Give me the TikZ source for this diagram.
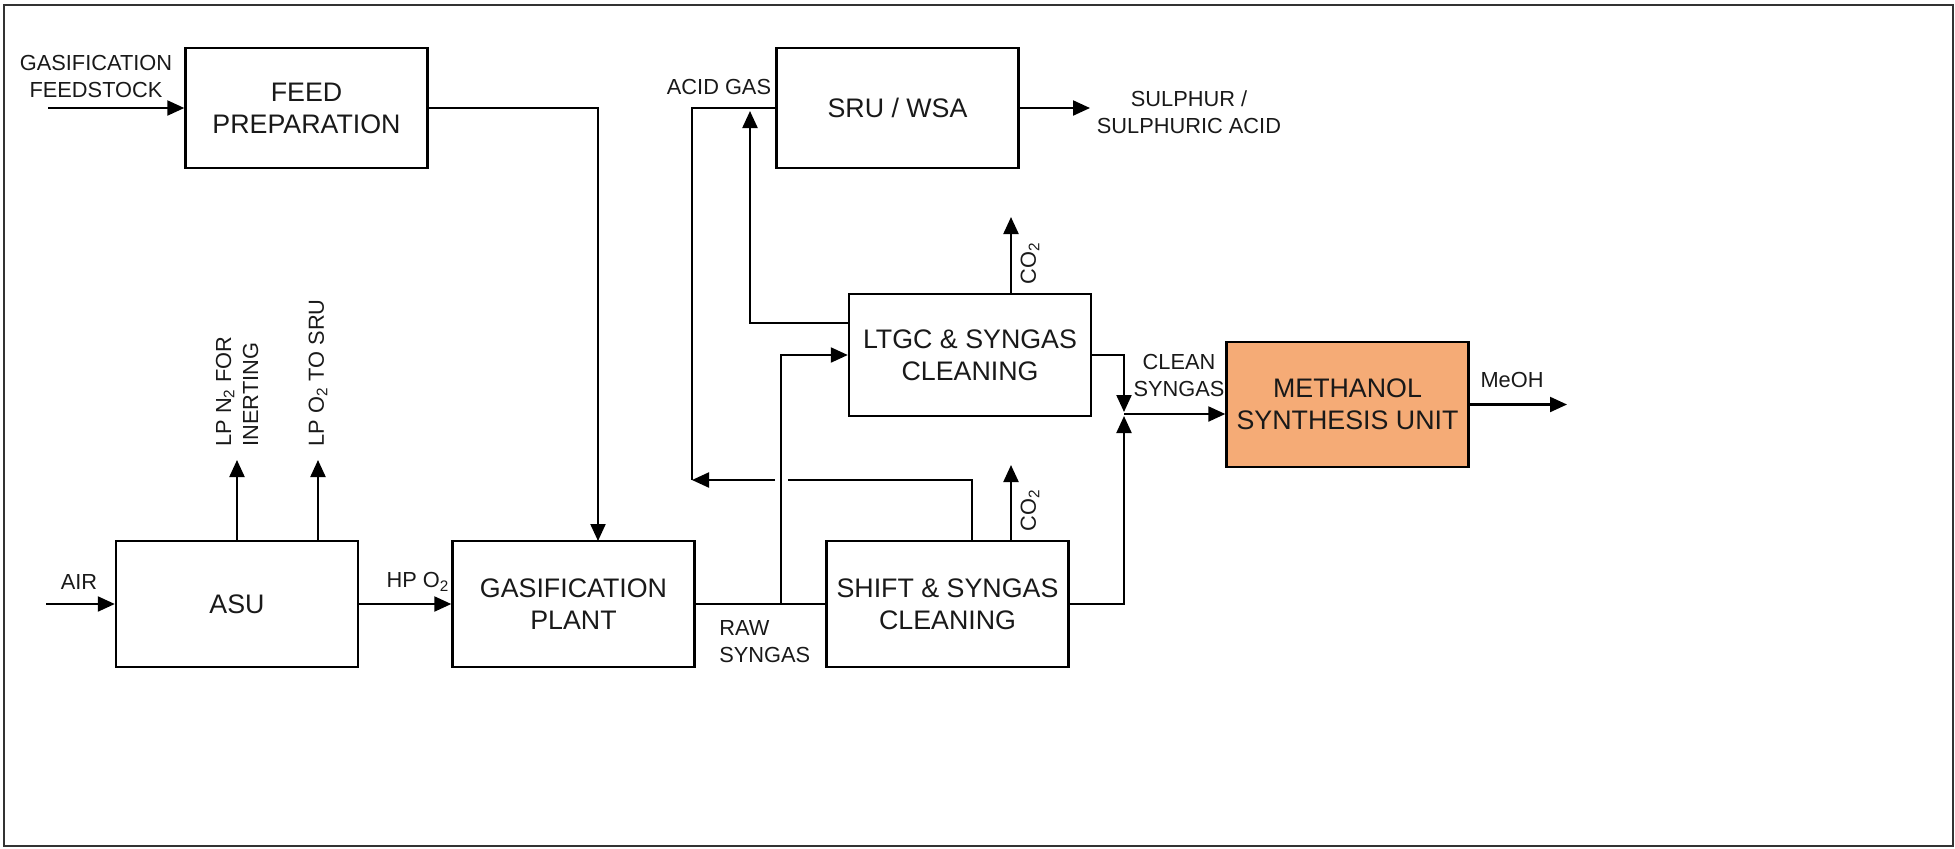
\documentclass[tikz,border=0pt]{standalone}
\usepackage{fontspec}
\setmainfont{Liberation Sans}
\usetikzlibrary{arrows.meta}
\definecolor{msufill}{RGB}{245,171,118}
\definecolor{txt}{RGB}{25,25,25}
\tikzset{
  pbox/.style={draw=black, line width=1.2pt, minimum width=121pt, inner sep=0pt, align=center,
    font=\fontsize{13.4}{16}\selectfont, text=txt},
  lbl/.style={inner sep=0pt, align=center, font=\fontsize{10.9}{13.5}\selectfont, text=txt},
  arr/.style={line width=1.1pt, -{Triangle[length=8.5pt,width=7.5pt]}},
  ln/.style={line width=1.1pt},
}
\begin{document}
\begin{tikzpicture}[x=0.5pt,y=-0.5pt]
\useasboundingbox (0,0) rectangle (1955,848);
\draw[line width=1pt, draw=black!80] (4,5) rectangle (1953,846);

% boxes
\node[pbox, minimum height=60pt] (feed) at (306.5,108) {FEED\\PREPARATION};
\node[pbox, minimum height=60pt] (sru) at (897.5,108) {SRU / WSA};
\node[pbox, minimum height=61pt] (ltgc) at (970,355) {LTGC \& SYNGAS\\CLEANING};
\node[pbox, minimum height=63pt] (asu) at (237,604) {ASU};
\node[pbox, minimum height=63pt] (gp) at (573.5,604) {GASIFICATION\\PLANT};
\node[pbox, minimum height=63pt] (shift) at (947.5,604) {SHIFT \& SYNGAS\\CLEANING};
\node[pbox, minimum height=62.5pt, fill=msufill] (msu) at (1347.5,404.5) {METHANOL\\SYNTHESIS UNIT};

% free-end coordinates
\coordinate (gfin) at (48,108);
\coordinate (gpin) at (598,541);
\coordinate (airin) at (46,604);
\coordinate (n2out) at (237,460);
\coordinate (o2out) at (318,460);
\coordinate (rb) at (781,604);
\coordinate (shtop) at (972,541);
\coordinate (ag1) at (972,480);
\coordinate (gapR) at (788,480);
\coordinate (gapL) at (775,480);
\coordinate (agL) at (692,480);
\coordinate (lt1) at (750,323);
\coordinate (lt2) at (750,111);
\coordinate (sout) at (1090,108);
\coordinate (co2a) at (1011,217);
\coordinate (co2b) at (1011,465);
\coordinate (jt) at (1124,412);
\coordinate (jb) at (1124,416);
\coordinate (jn) at (1124,414);
\coordinate (meout) at (1567,404.5);

% connectors
\draw[arr] (gfin) -- (feed.west);
\draw[arr] (feed.east) -| (gpin);
\draw[arr] (airin) -- (asu.west);
\draw[arr] (asu.east) -- (gp.west);
\draw[arr] (asu.north) -- (n2out);
\draw[arr] (o2out |- asu.north) -- (o2out);
\draw[ln] (gp.east) -- (shift.west);
\draw[arr] (rb) |- (ltgc.west);
\draw[ln] (shtop) -- (ag1) -- (gapR);
\draw[arr] (gapL) -- (agL);
\draw[ln] (agL) |- (sru.west);
\draw[arr] (ltgc.west |- lt1) -- (lt1) -- (lt2);
\draw[arr] (sru.east) -- (sout);
\draw[arr] (co2a |- ltgc.north) -- (co2a);
\draw[arr] (co2b |- shift.north) -- (co2b);
\draw[arr] (ltgc.east) -| (jt);
\draw[arr] (shift.east) -| (jb);
\draw[arr] (jn) -- (jn -| msu.west);
\draw[arr] (msu.east) -- (meout);

% labels
\node[lbl] (lgf) at (96,76) {GASIFICATION\\FEEDSTOCK};
\node[lbl] (lair) at (79,582) {AIR};
\node[lbl] (lhp) at (418,582) {HP O\textsubscript{2}};
\node[lbl, rotate=90, anchor=west, align=left] (ln2) at (237,447) {LP N\textsubscript{2} FOR\\INERTING};
\node[lbl, rotate=90, anchor=west, align=left] (lo2) at (318,447) {LP O\textsubscript{2} TO SRU};
\node[lbl] (lacid) at (719,87) {ACID GAS};
\node[lbl] (lsul) at (1189,112) {SULPHUR /\\SULPHURIC ACID};
\node[lbl, rotate=90] (lco2a) at (1030,263) {CO\textsubscript{2}};
\node[lbl, rotate=90] (lco2b) at (1030,510) {CO\textsubscript{2}};
\node[lbl, anchor=west, align=left] (lraw) at (719,642) {RAW\\SYNGAS};
\node[lbl] (lclean) at (1179,375) {CLEAN\\SYNGAS};
\node[lbl] (lmeoh) at (1512,380) {MeOH};
\end{tikzpicture}
\end{document}
